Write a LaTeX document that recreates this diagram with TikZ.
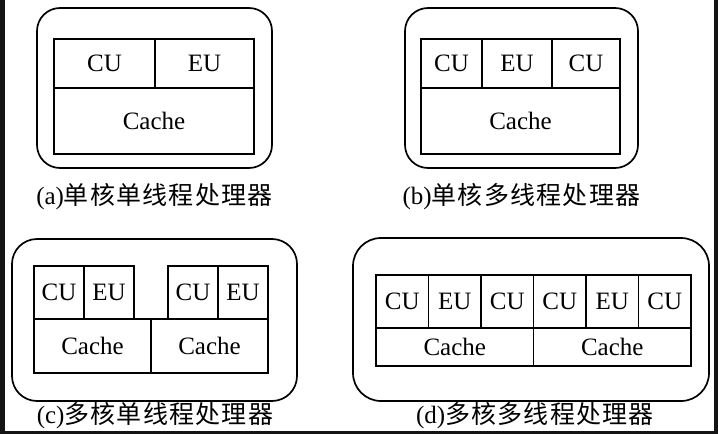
\documentclass[tikz,border=0pt]{standalone}
\usepackage{fontspec}
\setmainfont{Liberation Serif}
\newfontfamily\cjk[LetterSpace=5]{Noto Sans CJK SC}
\begin{document}
\begin{tikzpicture}[x=1pt,y=-1pt]
\tikzset{
  cell/.style={draw, line width=1.3pt, inner sep=0pt, text height=16.5pt, text depth=0pt, font=\fontsize{25}{25}\selectfont},
  outerbox/.style={draw, line width=1.7pt, inner sep=0pt},
  caption/.style={inner sep=0pt, font=\fontsize{25}{25}\selectfont},
}
\useasboundingbox (0,0) rectangle (718,434);
\fill[white] (0,0) rectangle (718,434);
% (a)
\node[outerbox, rounded corners=23pt, minimum width=235pt, minimum height=160pt] (A) at (154.5,88) {};
\node[cell, minimum width=101pt, minimum height=49pt] (a1) at (104.5,63.5) {CU};
\node[cell, minimum width=99pt, minimum height=49pt] (a2) at (204.5,63.5) {EU};
\node[cell, minimum width=200pt, minimum height=66pt] (a3) at (154,121) {Cache};
\node[caption] (ca) at (154.5,197) {(a)\cjk 单核单线程处理器};
% (b)
\node[outerbox, rounded corners=23pt, minimum width=233pt, minimum height=160pt] (B) at (521.5,88) {};
\node[cell, minimum width=61pt, minimum height=49pt] (b1) at (451.5,63.5) {CU};
\node[cell, minimum width=70pt, minimum height=49pt] (b2) at (517,63.5) {EU};
\node[cell, minimum width=68pt, minimum height=49pt] (b3) at (586,63.5) {CU};
\node[cell, minimum width=199pt, minimum height=66pt] (b4) at (520.5,121) {Cache};
\node[caption] (cb) at (521.5,197) {(b)\cjk 单核多线程处理器};
% (c)
\node[outerbox, rounded corners=25pt, minimum width=285pt, minimum height=162pt] (C) at (154.5,320) {};
\node[cell, minimum width=50pt, minimum height=53pt] (c1) at (59,292.5) {CU};
\node[cell, minimum width=50pt, minimum height=53pt] (c2) at (109,292.5) {EU};
\node[cell, minimum width=50pt, minimum height=53pt] (c3) at (193,292.5) {CU};
\node[cell, minimum width=50pt, minimum height=53pt] (c4) at (243,292.5) {EU};
\node[cell, minimum width=117pt, minimum height=54pt] (c5) at (92.5,346) {Cache};
\node[cell, minimum width=117pt, minimum height=54pt] (c6) at (209.5,346) {Cache};
\node[caption] (cc) at (155,416) {(c)\cjk 多核单线程处理器};
% (d)
\node[outerbox, rounded corners=28pt, minimum width=356pt, minimum height=163pt] (D) at (531,319.5) {};
\node[cell, minimum width=52.5pt, minimum height=53pt] (d1) at (402.25,301.5) {CU};
\node[cell, minimum width=52.5pt, minimum height=53pt] (d2) at (454.75,301.5) {EU};
\node[cell, minimum width=52.5pt, minimum height=53pt] (d3) at (507.25,301.5) {CU};
\node[cell, minimum width=52.5pt, minimum height=53pt] (d4) at (559.75,301.5) {CU};
\node[cell, minimum width=52.5pt, minimum height=53pt] (d5) at (612.25,301.5) {EU};
\node[cell, minimum width=52.5pt, minimum height=53pt] (d6) at (664.75,301.5) {CU};
\node[cell, minimum width=157.5pt, minimum height=38pt] (d7) at (454.75,347) {Cache};
\node[cell, minimum width=157.5pt, minimum height=38pt] (d8) at (612.25,347) {Cache};
\node[caption] (cd) at (535,416) {(d)\cjk 多核多线程处理器};
% scan borders
\fill[black!92] (0,0) rectangle (4.5,434);
\fill[black!92] (714,0) rectangle (718,434);
\fill[black!92] (0,431) rectangle (718,434);
\end{tikzpicture}
\end{document}
